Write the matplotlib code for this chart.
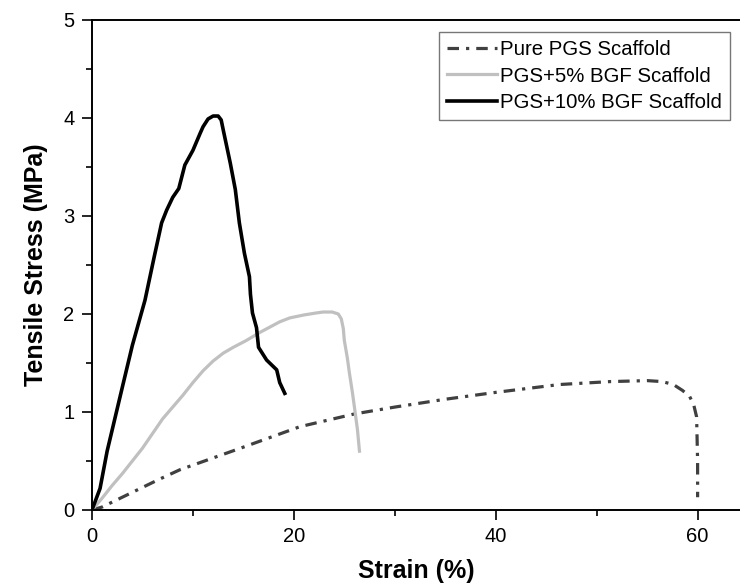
import matplotlib
matplotlib.use("Agg")
import matplotlib.pyplot as plt

plt.rcParams["font.family"] = ["Liberation Sans", "DejaVu Sans"]

# Pure PGS scaffold
pure_x = [0, 1, 3, 6.6, 8.7, 14.7, 20.6, 26, 30, 35, 40, 46.3, 51.3, 55, 56.5, 57.6, 58.5, 59.2, 59.6, 59.9, 60, 60]
pure_y = [0, 0.03, 0.13, 0.31, 0.41, 0.63, 0.85, 0.98, 1.05, 1.13, 1.2, 1.28, 1.31, 1.32, 1.31, 1.28, 1.22, 1.16, 1.08, 0.95, 0.5, 0.13]

# PGS + 5% BGF scaffold
bgf5_x = [0, 1, 2, 3, 4, 5, 6, 7, 8, 9, 10, 11, 12, 13, 14, 15.3, 16.6, 18.6, 19.6, 21, 22.2, 22.9, 23.8, 24.4, 24.7, 24.9,
          25.0, 25.3, 25.5, 25.8, 26.0, 26.3, 26.5]
bgf5_y = [0, 0.12, 0.25, 0.37, 0.5, 0.63, 0.78, 0.93, 1.05, 1.17, 1.3, 1.42, 1.52, 1.6, 1.66, 1.73, 1.81, 1.92, 1.96, 1.99, 2.01, 2.02, 2.02, 2.0, 1.95, 1.85,
          1.73, 1.55, 1.4, 1.2, 1.05, 0.82, 0.6]

# PGS + 10% BGF scaffold
bgf10_x = [0, 0.8, 1.5, 3, 4, 5.25, 6.2, 6.9, 7.4, 8.0, 8.6, 9.2, 10.0, 10.7, 11.0, 11.5, 12.0, 12.5, 12.8, 13.0, 13.7, 14.2, 14.6,
           15.1, 15.6, 15.7, 15.9, 16.3, 16.5, 17.3, 18.3, 18.6, 19.1]
bgf10_y = [0, 0.22, 0.6, 1.25, 1.68, 2.14, 2.6, 2.93, 3.06, 3.19, 3.28, 3.52, 3.67, 3.84, 3.91, 3.99, 4.02, 4.02, 3.98, 3.88, 3.54, 3.27, 2.93,
           2.62, 2.38, 2.2, 2.01, 1.86, 1.66, 1.53, 1.43, 1.3, 1.19]

fig = plt.figure(figsize=(7.4, 5.88), dpi=100)
ax = fig.add_axes([0.1243, 0.1327, 0.8757, 0.8333])

ax.plot(pure_x, pure_y, color="#404040", lw=2.3, linestyle=(0, (3.6, 2.2, 1.0, 2.2)), label="Pure PGS Scaffold")
ax.plot(bgf5_x, bgf5_y, color="#c0c0c0", lw=2.3, solid_joinstyle="round", label="PGS+5% BGF Scaffold")
ax.plot(bgf10_x, bgf10_y, color="black", lw=2.6, solid_joinstyle="round", label="PGS+10% BGF Scaffold")

ax.set_xlim(0, 64.2)
ax.set_ylim(0, 5)
ax.set_xticks([0, 20, 40, 60])
ax.set_xticks([10, 30, 50], minor=True)
ax.set_yticks([0, 1, 2, 3, 4, 5])
ax.set_yticks([0.5, 1.5, 2.5, 3.5, 4.5], minor=True)
ax.tick_params(which="major", direction="out", length=7.5, width=1.2, labelsize=14.5, pad=5)
ax.tick_params(which="minor", direction="out", length=4, width=1.2)
ax.spines["right"].set_visible(False)
for s in ["left", "bottom", "top"]:
    ax.spines[s].set_linewidth(1.4)

ax.set_xlabel("Strain (%)", fontsize=18, fontweight="bold", labelpad=9)
ax.set_ylabel("Tensile Stress (MPa)", fontsize=18, fontweight="bold", labelpad=11)

leg = ax.legend(loc="upper right", bbox_to_anchor=(0.9865, 0.9456), bbox_transform=fig.transFigure,
                fontsize=14.7, frameon=True, fancybox=False, borderaxespad=0, borderpad=0.4,
                labelspacing=0.36, handlelength=2.45, handletextpad=0.15)
leg.get_frame().set_edgecolor("#555555")
leg.get_frame().set_linewidth(1.0)

fig.savefig("out.png", dpi=100)
